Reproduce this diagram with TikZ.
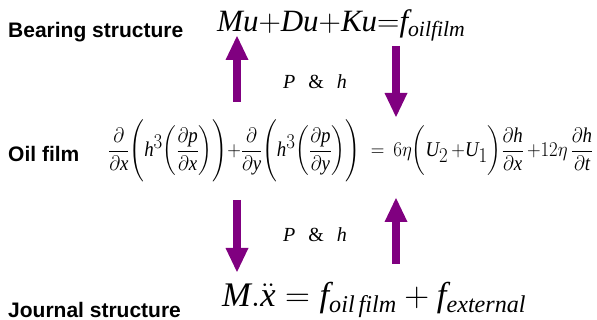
\RequirePackage{fix-cm}
\documentclass[tikz,border=0pt]{standalone}
\usepackage{amsmath}
\usepackage{graphicx}
\usepackage{fontspec}
\setmainfont{Liberation Serif}
\setmathrm{Liberation Serif}
\newfontfamily\labelfont{Liberation Sans}
\usetikzlibrary{arrows.meta}

\definecolor{flowcol}{RGB}{128,0,128}
\newcommand{\pd}{\partial}
\newcommand{\dq}[2]{\dfrac{\pd #1}{\pd \mathit{#2}}}

\begin{document}
\begin{tikzpicture}[x=1pt, y=-1pt,
  lbl/.style={anchor=base west, inner sep=0pt, font=\labelfont\bfseries\fontsize{21}{25}\selectfont},
  eqn/.style={anchor=base west, inner sep=0pt},
  ph/.style={anchor=base west, inner sep=0pt, font=\fontsize{20}{24}\selectfont},
  flow/.style={draw=flowcol, line width=8pt,
               -{Triangle[width=23pt, length=24pt, line width=0pt]}}]

\useasboundingbox (0,0) rectangle (597,320);

% level labels
\node[lbl] (bearinglbl) at (8,38)  {Bearing structure};
\node[lbl] (filmlbl)    at (8,162) {Oil film};
\node[lbl] (journallbl) at (8,317) {Journal structure};

% equations
\node[eqn, font=\fontsize{31}{35}\selectfont] (bearingeq) at (217,32)
  {$\mathit{Mu}{+}\mathit{Du}{+}\mathit{Ku}{=}\mathit{f}_{\mathit{oilfilm}}$};
% Reynolds equation, squeezed to the width of the reference
\node[eqn, anchor=west, font=\fontsize{21}{25}\selectfont] (filmeq) at (108,151)
  {\resizebox{485pt}{\height}{$\dq{}{x}\Biggl(\mathit{h}^{\textstyle 3}\biggl(\dq{\mathit{p}}{x}\biggr)\Biggr){+}
   \dq{}{y}\Biggl(\mathit{h}^{\textstyle 3}\biggl(\dq{\mathit{p}}{y}\biggr)\Biggr)
   \hspace{12pt}{=}\hspace{10pt}
   6\eta\biggl(\mathit{U}_{\textstyle 2}\,{+}\mathit{U}_{\textstyle 1}\biggr)\dq{\mathit{h}}{x}
   \,{+}12\eta\,\dq{\mathit{h}}{t}$}};
\node[eqn, font=\fontsize{34.5}{39}\selectfont] (journaleq) at (222,307)
  {$\mathit{M}.\ddot{\mathit{x}} = \mathit{f}_{\mathit{oil\,film}} + \mathit{f}_{\mathit{external}}$};

% exchanged quantities
\node[ph] (phtop) at (283,89)  {\textit{P}\hspace{13pt}\&\hspace{13pt}\textit{h}};
\node[ph] (phbot) at (283,242) {\textit{P}\hspace{13pt}\&\hspace{13pt}\textit{h}};

% arrow ends
\coordinate (a1) at (237,102);  \coordinate (a2) at (237,36);
\coordinate (b1) at (396,46);   \coordinate (b2) at (396,117);
\coordinate (c1) at (237,200);  \coordinate (c2) at (237,272);
\coordinate (d1) at (396,264);  \coordinate (d2) at (396,198);

\draw[flow] (a1) -- (a2);
\draw[flow] (b1) -- (b2);
\draw[flow] (c1) -- (c2);
\draw[flow] (d1) -- (d2);

\end{tikzpicture}
\end{document}
